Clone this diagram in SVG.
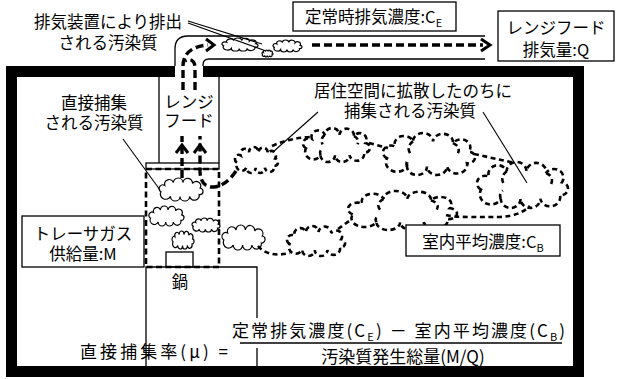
<svg xmlns="http://www.w3.org/2000/svg" width="617" height="379" viewBox="0 0 617 379">
  <style>
    text { font-family: "Noto Sans CJK JP", "Noto Sans CJK SC", sans-serif; font-size: 16.5px; fill: #000; }
    .c { text-anchor: middle; }
    .sub { font-size: 11px; }
    .box { fill: #fff; stroke: #000; stroke-width: 1.3; }
    .thin { fill: none; stroke: #000; stroke-width: 1.1; }
    .line { fill: none; stroke: #000; stroke-width: 1.3; }
    .wall { fill: #000; }
    .flow { fill: none; stroke: #000; stroke-width: 2.6; stroke-dasharray: 5 3.5; }
    .flow-bold { fill: none; stroke: #000; stroke-width: 3.4; stroke-dasharray: 8 4; }
    .head { fill: none; stroke: #000; stroke-width: 3; stroke-linejoin: miter; }
    .cs { fill: #fff; stroke: #000; stroke-width: 1.2; }
    .cd { fill: none; stroke: #000; stroke-width: 2.6; stroke-dasharray: 5 3.5; }
    .eq { font-size: 17px; }
  </style>
  <defs>
    <!-- unit cloud, bbox about x 4..96, y 0..50; stroke stays in screen units -->
    <path id="cloud" vector-effect="non-scaling-stroke"
          d="M8,30 A1,1 0 0 1 16,16 A1,1 0 0 1 34,10 A1,1 0 0 1 54,10 A1,1 0 0 1 74,12 A1,1 0 0 1 90,22 A1,1 0 0 1 88,36 A1,1 0 0 1 68,40 A1,1 0 0 1 48,40 A1,1 0 0 1 28,40 A1,1 0 0 1 8,30 Z"/>
    <path id="curl" vector-effect="non-scaling-stroke" d="M34,10 Q27,16 31,24 M74,12 Q82,16 79,24 M28,40 Q26,34 30,31"/>
  </defs>

  <rect width="617" height="379" fill="#fff"/>

  <!-- building walls -->
  <g id="walls" class="wall">
    <rect x="6" y="66" width="169" height="11"/>
    <rect x="203" y="66" width="381" height="11"/>
    <rect x="6" y="66" width="11" height="311"/>
    <rect x="573" y="66" width="11" height="311"/>
    <rect x="6" y="366" width="578" height="11"/>
  </g>

  <!-- exhaust duct -->
  <g id="duct" class="line">
    <path d="M175,66 V49 Q175,36 188,36 H485"/>
    <path d="M203,66 V65 Q203,59 209,59 H485"/>
  </g>

  <!-- range hood -->
  <g id="hood">
    <path class="line" d="M159,77 V163 M219,77 V163"/>
    <rect class="line" x="146" y="163" width="73" height="6"/>
    <rect x="146" y="169" width="73" height="98" fill="none" stroke="#000" stroke-width="2.6" stroke-dasharray="6 3.5"/>
    <text class="c" x="189" y="107.5">レンジ<tspan x="189" dy="19">フード</tspan></text>
  </g>

  <!-- counter and pot -->
  <g id="counter">
    <rect x="232" y="318" width="334" height="30" fill="#fff"/>
    <path class="line" d="M146,366 V267 H257 V318 M257,348 V366"/>
    <rect class="line" x="166" y="252" width="27" height="15"/>
    <text class="c" x="180" y="287.5">鍋</text>
  </g>

  <!-- pollutant clouds -->
  <g id="clouds-solid" class="cs">
    <use href="#cloud" transform="translate(220.46,38) scale(0.391,0.26)"/>
    <use href="#cloud" transform="translate(271.76,40) scale(0.315,0.24)"/>
    <use href="#cloud" transform="translate(261.53,50) scale(0.119,0.14)"/>
    <use href="#cloud" transform="translate(157.12,178) scale(0.478,0.46)"/>
    <use href="#cloud" transform="translate(147.5,206) scale(0.38,0.4)"/>
    <use href="#cloud" transform="translate(190.8,218) scale(0.304,0.28)"/>
    <use href="#cloud" transform="translate(171.06,231) scale(0.239,0.36)"/>
    <use href="#cloud" transform="translate(220.16,225) scale(0.467,0.5)"/>
  </g>
  <g id="clouds-spread" class="cd">
    <use href="#cloud" transform="translate(233.16,147) scale(0.467,0.52)"/>
    <use href="#cloud" transform="translate(300.13,128) scale(0.727,0.68)"/>
    <use href="#curl" transform="translate(300.13,128) scale(0.727,0.68)"/>
    <use href="#cloud" transform="translate(379.06,133) scale(0.999,0.84)"/>
    <use href="#curl" transform="translate(379.06,133) scale(0.999,0.84)"/>
    <use href="#cloud" transform="translate(473.11,162) scale(0.988,0.92)"/>
    <use href="#curl" transform="translate(473.11,162) scale(0.988,0.92)"/>
    <use href="#cloud" transform="translate(343.34,191) scale(1.183,0.78)"/>
    <use href="#curl" transform="translate(343.34,191) scale(1.183,0.78)"/>
    <use href="#cloud" transform="translate(284.52,226) scale(0.63,0.6)"/>
  </g>

  <!-- flow paths -->
  <g id="connectors">
    <path class="flow" d="M258,246 Q268,258 290,253"/>
    <path class="flow" d="M338,229 L352,219"/>
    <path class="flow" d="M446,215 Q452,217 470,217 H500 Q520,216 530,206"/>
    <path class="flow" d="M474,154 L515,163"/>
    <path class="flow" d="M369,143 L388,148"/>
    <path class="flow" d="M272,146 Q290,138 310,137"/>
    <path class="flow-bold" d="M182,178 V136"/>
    <polyline class="head" points="176,153 182,145 188,153"/>
    <path class="flow-bold" d="M236,171 Q226,186 214,187 Q201,188 200,172 V136"/>
    <polyline class="head" points="194,153 200,145 206,153"/>
    <path class="flow-bold" d="M183,90 V66 C183,52 194,46 208,45"/>
    <path class="flow-bold" d="M195,90 V68 C195,60 190,58 185,61"/>
    <polyline class="head" points="206,39 214,45 206,51"/>
    <path class="flow-bold" d="M312,45 H483"/>
    <polyline class="head" points="481,39 490,45 481,51"/>
  </g>

  <!-- leader lines -->
  <g id="leaders" class="thin">
    <path d="M188,21 L262,44 M188,23 L266,51"/>
    <path d="M123,139 L160,190"/>
    <path d="M318,112 L273,152"/>
    <path d="M483,112 L527,183"/>
  </g>

  <!-- labels -->
  <g id="label-exhausted">
    <text class="c" x="108" y="27.5">排気装置により排出<tspan x="108" dy="21">される汚染質</tspan></text>
  </g>
  <g id="label-direct">
    <text class="c" x="94" y="108.5">直接捕集<tspan x="94" dy="20">される汚染質</tspan></text>
  </g>
  <g id="label-spread">
    <text class="c" x="413" y="96.5">居住空間に拡散したのちに<tspan x="410" dy="20">捕集される汚染質</tspan></text>
  </g>
  <g id="box-ce">
    <rect class="box" x="293" y="2" width="163" height="29"/>
    <text x="305" y="22.5">定常時排気濃度:C<tspan class="sub" dy="4">E</tspan></text>
  </g>
  <g id="box-q">
    <rect class="box" x="498" y="11" width="116" height="50"/>
    <text class="c" x="556" y="33.5">レンジフード<tspan x="556" dy="22">排気量:Q</tspan></text>
  </g>
  <g id="box-m">
    <rect class="box" x="22" y="216" width="122" height="51"/>
    <text class="c" x="83" y="239.5">トレーサガス<tspan x="83" dy="20">供給量:M</tspan></text>
  </g>
  <g id="box-cb">
    <rect class="box" x="406" y="225" width="154" height="31"/>
    <text class="c" x="483" y="247.5">室内平均濃度:C<tspan class="sub" dy="4">B</tspan></text>
  </g>

  <!-- capture efficiency formula -->
  <g id="formula" class="eq">
    <text class="eq" x="228" y="358" text-anchor="end" textLength="148" lengthAdjust="spacing">直接捕集率(μ) =</text>
    <text class="eq" x="232" y="337" textLength="333" lengthAdjust="spacing">定常排気濃度(C<tspan class="sub" dy="4">E</tspan><tspan dy="-4">) － 室内平均濃度(C</tspan><tspan class="sub" dy="4">B</tspan><tspan dy="-4">)</tspan></text>
    <path class="line" d="M240,343 H562"/>
    <text class="c eq" x="403" y="363">汚染質発生総量(M/Q)</text>
  </g>
</svg>
